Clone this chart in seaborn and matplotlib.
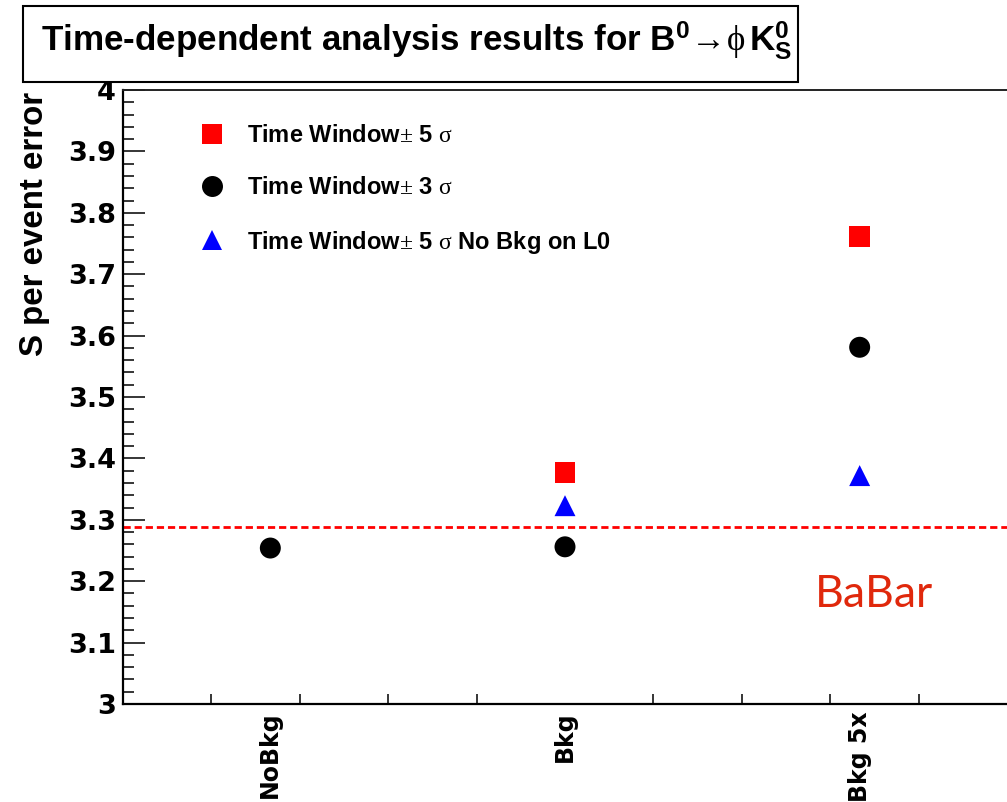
import numpy as np
import pandas as pd
import matplotlib
matplotlib.use("Agg")
import matplotlib.pyplot as plt
import seaborn as sns
from matplotlib.lines import Line2D
from matplotlib.patches import Rectangle
from matplotlib.ticker import MultipleLocator, FixedLocator, FuncFormatter
from matplotlib.font_manager import FontProperties

# ---- data -------------------------------------------------------------
setups = ["NoBkg", "Bkg", "Bkg 5x"]
series_labels = [
    r"Time Window$\pm$ 5 $\mathrm{\sigma}$",
    r"Time Window$\pm$ 3 $\mathrm{\sigma}$",
    r"Time Window$\pm$ 5 $\mathrm{\sigma}$ No Bkg on L0",
]
window5 = [np.nan, 3.377, 3.762]
window3 = [3.254, 3.256, 3.581]
window5_nobkg_l0 = [np.nan, 3.323, 3.372]
reference_level = 3.288

series_colors = ["#ff0000", "#000000", "#0000ff"]
series_markers = ["s", "o", "^"]

rows = []
for i, setup in enumerate(setups):
    for label, vals in zip(series_labels, [window5, window3, window5_nobkg_l0]):
        if not np.isnan(vals[i]):
            rows.append({"setup": setup, "series": label, "value": vals[i]})
df = pd.DataFrame(rows)
df["setup"] = pd.Categorical(df["setup"], categories=setups, ordered=True)

# ---- style ------------------------------------------------------------
sns.set_style("ticks")
plt.rcParams["font.family"] = ["Liberation Sans", "DejaVu Sans"]
plt.rcParams["mathtext.fontset"] = "custom"
plt.rcParams["mathtext.rm"] = "Liberation Serif"
plt.rcParams["mathtext.it"] = "Liberation Serif:italic"
plt.rcParams["mathtext.bf"] = "Liberation Sans:bold"
plt.rcParams["mathtext.fallback"] = "stix"
for key in ["text.color", "axes.labelcolor", "xtick.color", "ytick.color"]:
    plt.rcParams[key] = "black"

fig = plt.figure(figsize=(10.07, 8.02), dpi=100)
fig.patch.set_facecolor("white")
W, H = 1007, 802
ax = fig.add_axes([123 / W, 1 - 704 / H, (1007 - 123) / W, (704 - 90) / H])
ax.set_facecolor("white")

sns.scatterplot(
    data=df, x="setup", y="value", hue="series", style="series",
    hue_order=series_labels, style_order=series_labels,
    palette=dict(zip(series_labels, series_colors)),
    markers=dict(zip(series_labels, series_markers)),
    s=228, linewidth=0, legend=False, ax=ax, zorder=3,
)

ax.axhline(reference_level, color="#ff0000", lw=2, linestyle=(0, (2.6, 1.4)), zorder=2)

# ---- axes -------------------------------------------------------------
ax.set_xlim(-0.5, 2.5)
ax.set_ylim(3.0, 4.0)

ax.yaxis.set_major_locator(MultipleLocator(0.1))
ax.yaxis.set_minor_locator(MultipleLocator(0.02))
ax.yaxis.set_major_formatter(FuncFormatter(lambda v, p: f"{v:g}"))
ax.tick_params(axis="y", which="major", direction="in", length=16, width=1.1,
               pad=5, labelsize=19.5)
ax.tick_params(axis="y", which="minor", direction="in", length=8, width=1.1)
ax.tick_params(axis="y", right=False, which="both")
for t in ax.get_yticklabels():
    t.set_fontfamily(["DejaVu Sans"])
    t.set_fontweight("bold")

ax.xaxis.set_major_locator(FixedLocator(range(len(setups))))
ax.set_xticklabels(setups)
ax.xaxis.set_minor_locator(FixedLocator(np.arange(-0.2, 2.45, 0.3)))
ax.tick_params(axis="x", which="major", length=0, pad=5, labelsize=17)
ax.tick_params(axis="x", which="minor", direction="in", length=7.5, width=1.1)
for t in ax.get_xticklabels():
    t.set_rotation(90)
    t.set_va("top")
    t.set_ha("center")
    t.set_fontfamily(["DejaVu Sans"])
    t.set_fontweight("bold")

ax.set_xlabel("")
ax.set_ylabel("S per event error", fontsize=23.8, fontweight="bold", loc="top")
ax.yaxis.set_label_coords((50 - 123) / 884, 0.997)

for side in ["left", "bottom"]:
    ax.spines[side].set_linewidth(1.6)
    ax.spines[side].set_color("black")
ax.spines["top"].set_linewidth(1.4)
ax.spines["top"].set_color("#222222")
ax.spines["right"].set_visible(False)

# ---- legend -----------------------------------------------------------
handles = [
    Line2D([], [], linestyle="none", marker=m, markersize=15.1,
           markerfacecolor=c, markeredgewidth=0)
    for m, c in zip(series_markers, series_colors)
]
ax.legend(
    handles, series_labels, loc="upper left",
    bbox_to_anchor=(200 / W, 1 - 124 / H), bbox_transform=fig.transFigure,
    frameon=False, prop=FontProperties(family="Liberation Sans", weight="bold", size=17),
    handlelength=1.0, handletextpad=1.0, labelspacing=1.24,
    borderpad=0, borderaxespad=0, labelcolor="black",
)

# ---- experiment tag ---------------------------------------------------
fig.text(815 / W, 1 - 607 / H, "BaBar", color="#e0280c", fontsize=32,
         family=["Lato", "DejaVu Sans"], ha="left", va="baseline")

# ---- title box --------------------------------------------------------
fig.patches.append(Rectangle((23 / W, 1 - 82 / H), (798 - 23) / W, (82 - 6) / H,
                             transform=fig.transFigure, facecolor="white",
                             edgecolor="black", linewidth=1.5, zorder=5))
fig.text(41 / W, 1 - 51 / H,
         r"Time-dependent analysis results for B$^{\mathbf{0}}\!\rightarrow\!"
         r"\mathrm{\phi}\,\mathbf{K}^{\mathbf{0}}_{\mathbf{S}}$",
         fontsize=25.2, fontweight="bold", ha="left", va="baseline", zorder=6)

fig.savefig("out.png", dpi=100, facecolor="white")
